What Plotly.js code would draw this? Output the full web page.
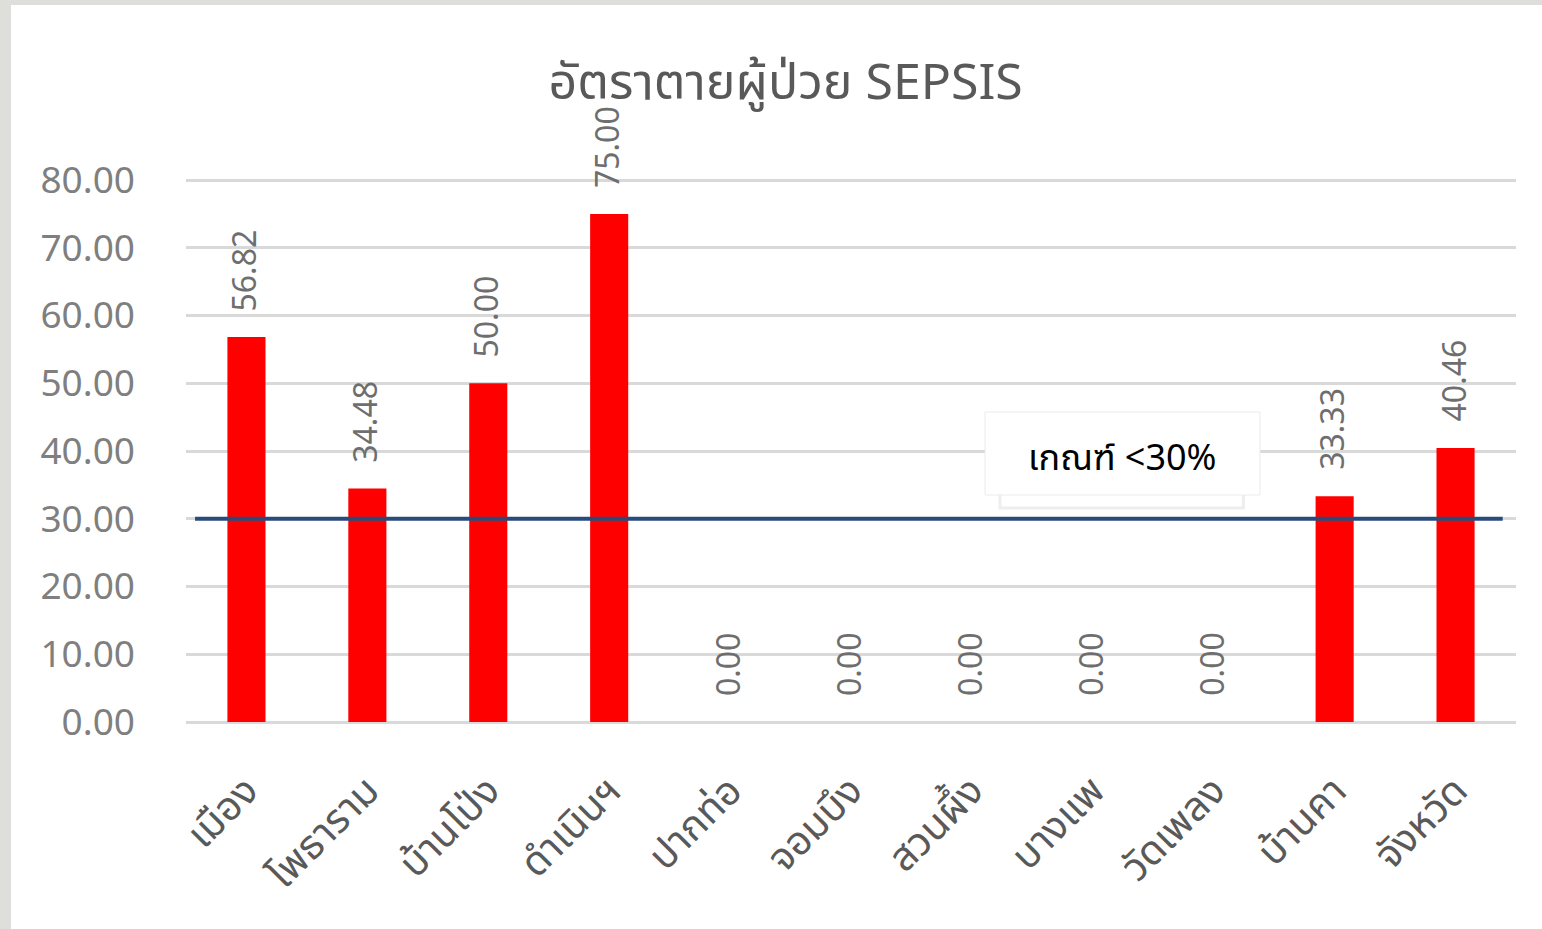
<!DOCTYPE html>
<html>
<head>
<meta charset="utf-8">
<script src="https://cdn.plot.ly/plotly-3.0.1.min.js"></script>
<style>
  html, body { margin: 0; padding: 0; background: #dededa; width: 1542px; height: 929px; overflow: hidden; }
  #chart { position: absolute; left: 11px; top: 5px; width: 1531px; height: 924px; background: #ffffff; }
</style>
</head>
<body>
<div id="chart"></div>
<script>
const categories = ["เมือง", "โพธาราม", "บ้านโป่ง", "ดำเนินฯ", "ปากท่อ", "จอมบึง", "สวนผึ้ง", "บางแพ", "วัดเพลง", "บ้านคา", "จังหวัด"];
const rates = [56.82, 34.48, 50.00, 75.00, 0.00, 0.00, 0.00, 0.00, 0.00, 33.33, 40.46];
const threshold = 30;
const thresholdLabel = "เกณฑ์ <30%";
const yTicks = [0, 10, 20, 30, 40, 50, 60, 70, 80];
const titleText = "อัตราตายผู้ป่วย SEPSIS";

const thaiFont = "Tahoma, 'Leelawadee UI', 'Noto Sans Thai', 'Noto Sans', sans-serif";

const barTrace = {
  type: "bar",
  x: categories,
  y: rates,
  marker: { color: "#ff0000" },
  hoverinfo: "x+y",
  showlegend: false
};

const labelAnnotations = categories.map((c, i) => ({
  x: c, y: rates[i], xref: "x", yref: "y",
  text: rates[i].toFixed(2),
  textangle: -90,
  showarrow: false,
  xanchor: "center", yanchor: "bottom",
  yshift: 24,
  font: { family: thaiFont, size: 32, color: "#6e6e6e" }
}));

const layout = {
  width: 1531, height: 924,
  paper_bgcolor: "#ffffff",
  plot_bgcolor: "#ffffff",
  margin: { l: 175, r: 26, t: 172, b: 207 },
  bargap: 0.685,
  title: {
    text: titleText,
    x: 0.506, xref: "container", xanchor: "center",
    y: 0.917, yref: "container", yanchor: "middle",
    font: { family: thaiFont, size: 50, color: "#595959" }
  },
  xaxis: {
    type: "category",
    tickangle: -45,
    tickfont: { family: thaiFont, size: 40, color: "#595959" },
    ticklabelstandoff: 36,
    showgrid: false,
    showline: false,
    ticks: "",
    automargin: false
  },
  yaxis: {
    range: [0, 80.443],
    tickvals: yTicks,
    ticktext: yTicks.map(v => v.toFixed(2)),
    tickfont: { family: thaiFont, size: 37, color: "#7f7f7f" },
    showgrid: true,
    gridcolor: "#d9d9d9",
    gridwidth: 3,
    zeroline: true,
    zerolinecolor: "#d9d9d9",
    zerolinewidth: 3,
    showline: false,
    ticks: "",
    ticklabelstandoff: 50,
    automargin: false
  },
  shapes: [
    {
      type: "rect", xref: "paper", yref: "paper",
      x0: 0.612, x1: 0.795, y0: 0.3927, y1: 0.444,
      line: { color: "#eeeeee", width: 3 },
      fillcolor: "rgba(255,255,255,0)",
      layer: "below"
    },
    {
      type: "line", xref: "paper", yref: "y",
      x0: 0.0068, x1: 0.990, y0: threshold, y1: threshold,
      line: { color: "#284b7c", width: 4 }
    },
    {
      type: "rect", xref: "paper", yref: "paper",
      x0: 0.6008, x1: 0.8075, y0: 0.4165, y1: 0.5688,
      line: { color: "#ebebeb", width: 1 },
      fillcolor: "#ffffff",
      layer: "above"
    }
  ],
  annotations: labelAnnotations.concat([
    {
      x: 0.704, y: 0.4826, xref: "paper", yref: "paper",
      text: thresholdLabel,
      showarrow: false,
      xanchor: "center", yanchor: "middle",
      font: { family: thaiFont, size: 36, color: "#000000" }
    }
  ])
};

Plotly.newPlot("chart", [barTrace], layout, { displayModeBar: false, responsive: false });
</script>
</body>
</html>
